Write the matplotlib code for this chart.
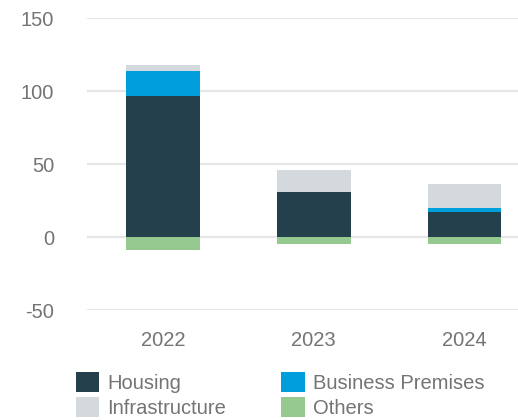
import matplotlib
matplotlib.use("Agg")
import matplotlib.pyplot as plt
import numpy as np

years = ["2022", "2023", "2024"]
housing = [96.5, 30.8, 17.1]
business_premises = [17.0, 0.0, 2.8]
infrastructure = [4.0, 15.3, 16.6]
others = [-8.8, -4.6, -4.6]

colors = {
    "Housing": "#25404d",
    "Business Premises": "#009fdb",
    "Infrastructure": "#d4d9dd",
    "Others": "#96c98f",
}
text_color = "#747474"

plt.rcParams["font.family"] = ["Liberation Sans", "DejaVu Sans"]
plt.rcParams["axes.unicode_minus"] = False

fig = plt.figure(figsize=(5.18, 4.2), dpi=100)
ax = fig.add_axes([86.7 / 518, 1 - 310 / 420, 1 - 86.7 / 518, 292 / 420])

x = np.arange(len(years))
width = 0.49
housing = np.array(housing)
business_premises = np.array(business_premises)

b_house = ax.bar(x, housing, width, color=colors["Housing"], zorder=2)
b_bus = ax.bar(x, business_premises, width, bottom=housing,
               color=colors["Business Premises"], zorder=2)
b_infra = ax.bar(x, infrastructure, width, bottom=housing + business_premises,
                 color=colors["Infrastructure"], zorder=2)
b_oth = ax.bar(x, others, width, color=colors["Others"], zorder=2)

ax.set_xlim(-0.506, 2.355)
ax.set_ylim(-50, 150)
ax.set_yticks([-50, 0, 50, 100, 150])
ax.set_xticks(x)
ax.set_xticklabels(years)
ax.yaxis.grid(True, color="#e6e6e6", linewidth=1.6, zorder=0)
ax.set_axisbelow(True)
for s in ax.spines.values():
    s.set_visible(False)
ax.tick_params(axis="y", length=0, pad=23.5, labelsize=14.5, labelcolor=text_color)
ax.tick_params(axis="x", length=0, pad=15, labelsize=14.5, labelcolor=text_color)

fig.legend(
    [b_house, b_infra, b_bus, b_oth],
    ["Housing", "Infrastructure", "Business Premises", "Others"],
    ncol=2, loc="upper left", bbox_to_anchor=(76 / 518, 1 - 372 / 420),
    frameon=False, fontsize=14.5, labelcolor=text_color,
    handlelength=1.15, handleheight=1.15, handletextpad=0.4,
    labelspacing=0.2, columnspacing=2.75, borderpad=0, borderaxespad=0,
)

fig.savefig("out.png", dpi=100)
